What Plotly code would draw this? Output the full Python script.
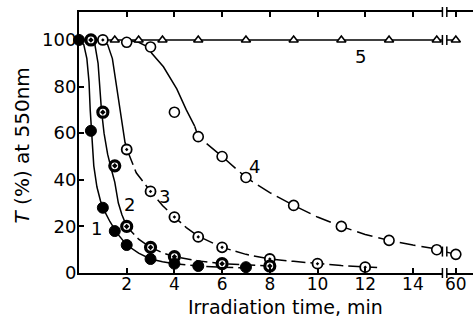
import plotly.graph_objects as go

# ---------------- data ----------------
X60 = 15.8          # plotted position of the 60-min point (broken axis)
BREAK_X = 15.33     # position of the axis break

# measured points
t1 = [0, 0.5, 1, 1.5, 2, 3, 4, 5, 7]
T1 = [100, 61, 28, 18, 12, 6, 4, 3, 2.5]

t2 = [0.5, 1, 1.5, 2, 3, 4, 6, 8]
T2 = [100, 69, 46, 20, 11, 7, 4, 3]

t3 = [1, 2, 3, 4, 5, 6, 8, 10, 12]
T3 = [100, 53, 35, 24, 15.5, 11, 6, 4, 2.5]

t4 = [2, 3, 4, 5, 6, 7, 9, 11, 13, 15, X60]
T4 = [99, 97, 69, 58.5, 50, 41, 29, 20, 14, 10, 8]

t5 = [1.5, 2.5, 3.5, 5, 7, 9, 11, 13, 15, X60]
T5 = [100, 100, 100, 100, 100, 100, 100, 100, 100, 100]

# fitted curves (solid part, dashed part)
c1s_x = [0, 0.2, 0.33, 0.42, 0.47, 0.53, 0.62, 0.75, 0.9, 1.05, 1.3, 1.6, 2.0, 2.5, 3.0, 3.5, 4.0]
c1s_y = [100, 98, 92, 82, 70, 58, 46, 37, 31, 27, 22, 17, 12, 8.5, 6, 4.8, 4]
c1d_x = [4, 5, 6, 7]
c1d_y = [4, 3, 2.5, 2.2]

c2s_x = [0.45, 0.65, 0.8, 0.88, 0.94, 1.05, 1.2, 1.37, 1.5, 1.65, 1.8, 2.0]
c2s_y = [100, 99, 90, 79, 70, 60, 51, 44, 39, 30, 25, 20]
c2d_x = [2, 2.5, 3, 3.5, 4, 5, 6, 7, 8]
c2d_y = [20, 14.5, 11, 8.7, 7, 5.2, 4, 3.4, 3]

c3s_x = [1.0, 1.2, 1.4, 1.55, 1.68, 1.82, 1.93, 2.05]
c3s_y = [100, 98, 92, 82, 72, 63, 56, 52]
c3d_x = [2.05, 2.4, 3, 3.5, 4, 4.5, 5, 6, 7, 8, 9, 10, 11, 12, 12.5]
c3d_y = [52, 43, 35, 29, 24, 19.5, 15.8, 11, 8, 6, 5, 4, 3.2, 2.6, 2.4]

c4s_x = [2, 2.5, 2.9, 3.05, 3.54, 4.1, 4.5, 4.85]
c4s_y = [100, 99, 97, 94.3, 88.5, 79, 70, 63]
c4d_x = [4.85, 5, 6, 7, 8, 9, 10, 11, 12, 13, 14, 15]
c4d_y = [63, 58.5, 50, 41, 34.5, 29, 24, 20, 16.5, 14, 12, 10.3]
c4b_x = [15, X60]
c4b_y = [10, 8]

c5_x = [0, 15, X60]
c5_y = [100, 100, 100]

x_tickvals = [2, 4, 6, 8, 10, 12, 14, X60]
x_ticktext = ["2", "4", "6", "8", "10", "12", "14", "60"]
y_tickvals = [0, 20, 40, 60, 80, 100]

curve_labels = ["1", "2", "3", "4", "5"]
label_x = [0.73, 2.13, 3.6, 7.37, 11.8]
label_y = [19.2, 29.2, 32.7, 45.6, 92.8]

# ---------------- figure ----------------
X_MAX = 16.52
Y_MAX = 112.0
W, H = 473, 322
ML, MR, MT, MB = 79, 0, 12, 49
PW, PH = W - ML - MR, H - MT - MB

LW = 1.5
DASH = "11px,5px"
fig = go.Figure()

def line(x, y, dash="solid"):
    fig.add_trace(go.Scatter(x=x, y=y, mode="lines", cliponaxis=False,
                             line=dict(color="black", width=LW, dash=dash),
                             showlegend=False, hoverinfo="skip"))

for xs, ys, d in [(c1s_x, c1s_y, "solid"), (c1d_x, c1d_y, DASH),
                  (c2s_x, c2s_y, "solid"), (c2d_x, c2d_y, DASH),
                  (c3s_x, c3s_y, "solid"), (c3d_x, c3d_y, "14px,5px"),
                  (c4s_x, c4s_y, "solid"), (c4d_x, c4d_y, "16px,6px"),
                  (c4b_x, c4b_y, "solid"), (c5_x, c5_y, "solid")]:
    line(xs, ys, d)

def pts(x, y, symbol, size, fill, lw):
    fig.add_trace(go.Scatter(x=x, y=y, mode="markers", cliponaxis=False,
                             marker=dict(symbol=symbol, size=size, color=fill,
                                         line=dict(color="black", width=lw)),
                             showlegend=False, hoverinfo="skip"))

pts(t5, T5, "triangle-up", 8, "white", 1.6)
pts(t4, T4, "circle", 10, "white", 1.6)
pts(t3, T3, "circle-dot", 10, "white", 1.8)
pts(t2, T2, "circle-dot", 10, "white", 3.2)
pts(t1, T1, "circle", 11, "black", 1)

# break marks (axis and curves)
dx = 2.2 / PW
dy = 5.0 / PH
def brk(px, py):
    fig.add_shape(type="rect", xref="paper", yref="paper", layer="above",
                  x0=px - dx, x1=px + dx, y0=py - dy * 0.7, y1=py + dy * 0.7,
                  fillcolor="white", line=dict(width=0))
    for s in (-1, 1):
        fig.add_shape(type="line", xref="paper", yref="paper", layer="above",
                      x0=px + s * dx, x1=px + s * dx, y0=py - dy, y1=py + dy,
                      line=dict(color="black", width=1.5))

bx = BREAK_X / X_MAX
brk(bx, 0.0)
brk(bx, 1.0)
brk(bx, 100 / Y_MAX)
brk(bx, 9.2 / Y_MAX)

for txt, lx, ly in zip(curve_labels, label_x, label_y):
    fig.add_annotation(x=lx, y=ly, text=txt, showarrow=False,
                       font=dict(size=18, color="black", family="DejaVu Sans"))

fig.add_annotation(xref="paper", yref="paper", x=(285 - ML) / PW, y=(273 - 307) / PH,
                   text="Irradiation time, min", showarrow=False,
                   xanchor="center", yanchor="middle",
                   font=dict(size=19, color="black", family="DejaVu Sans"))
fig.add_annotation(xref="paper", yref="paper", x=(21.5 - ML) / PW, y=(273 - 146) / PH,
                   text="<i>T</i> (%) at 550nm", showarrow=False, textangle=-90,
                   xanchor="center", yanchor="middle",
                   font=dict(size=20, color="black", family="DejaVu Sans"))

fig.update_layout(
    width=W, height=H,
    margin=dict(l=ML, r=MR, t=MT, b=MB, pad=0),
    paper_bgcolor="white", plot_bgcolor="white",
    font=dict(family="DejaVu Sans", color="black", size=17),
    xaxis=dict(range=[0, X_MAX], tickvals=x_tickvals, ticktext=x_ticktext,
               ticks="inside", ticklen=5, tickwidth=1.5, tickcolor="black",
               ticklabelstandoff=-5,
               showline=True, linewidth=2, linecolor="black", mirror="ticks",
               showgrid=False, zeroline=False, tickfont=dict(size=17)),
    yaxis=dict(range=[0, Y_MAX], tickvals=y_tickvals,
               ticks="inside", ticklen=5, tickwidth=1.5, tickcolor="black",
               ticklabelstandoff=-3,
               showline=True, linewidth=2, linecolor="black",
               showgrid=False, zeroline=False, tickfont=dict(size=18)),
)

fig.write_html("out.html")
